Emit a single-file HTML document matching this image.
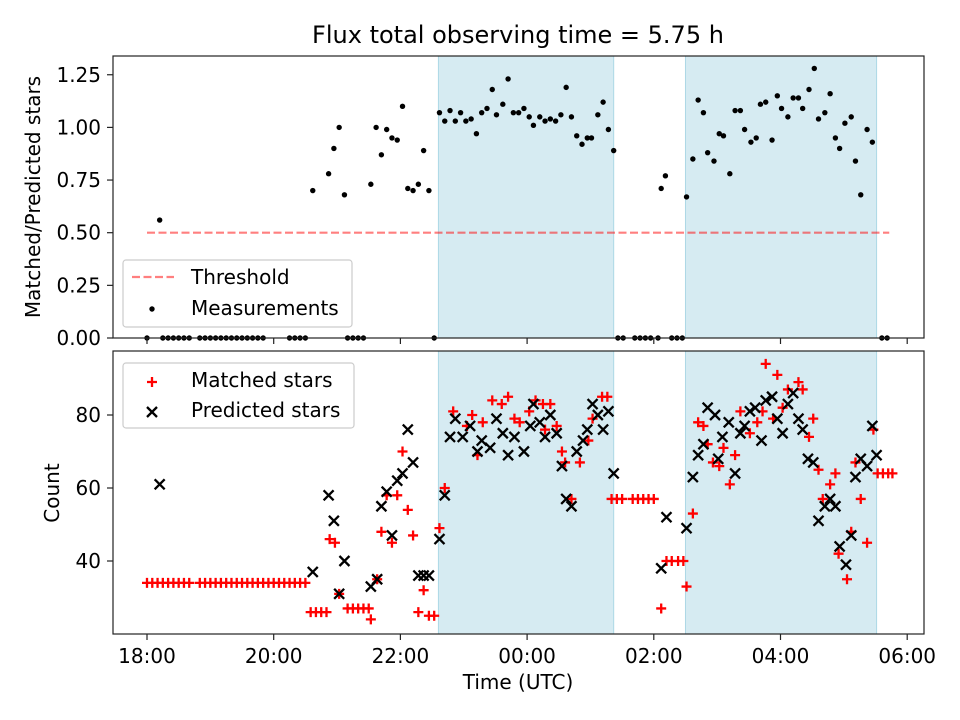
<!DOCTYPE html>
<html><head><meta charset="utf-8"><style>
html,body{margin:0;padding:0;background:#fff}
svg{display:block;font-family:"DejaVu Sans","Liberation Sans",sans-serif}
</style></head><body>
<svg id="chart" width="960" height="720" viewBox="0 0 960 720" xmlns="http://www.w3.org/2000/svg">
<rect width="960" height="720" fill="#fff"/>
<text x="518" y="43" font-size="24" text-anchor="middle">Flux total observing time = 5.75 h</text>
<g id="topPanel"></g>
<g id="botPanel"></g>
<text transform="translate(40,197) rotate(-90)" font-size="20" text-anchor="middle">Matched/Predicted stars</text>
<text transform="translate(59,493) rotate(-90)" font-size="20" text-anchor="middle">Count</text>
<text x="518" y="689" font-size="20" text-anchor="middle">Time (UTC)</text>
</svg>
<script>
// minutes since 18:00 UTC
const spans = [[276, 442], [510, 691]];
const threshold = 0.5;
const thresholdRange = [0, 703];
const ratioTimes = [0,15,20,25,30,35,40,50,55,60,65,70,75,80,85,90,95,100,105,110,135,140,145,150,190,195,200,205,272,446,451,462,467,472,477,484,497,502,507,696,701,
 12,157,172,177,182,187,212,217,222,227,232,237,242,247,252,257,262,267,277,282,287,292,297,302,307,312,317,322,327,331,337,342,347,352,357,362,366,372,377,382,387,392,397,402,407,412,417,421,427,432,437,442,487,491,511,517,522,527,531,537,542,546,552,557,562,566,572,577,581,586,592,597,601,607,612,617,621,627,632,636,642,647,652,656,661,667,671,676,682,687];
const ratioValues = [0,0,0,0,0,0,0,0,0,0,0,0,0,0,0,0,0,0,0,0,0,0,0,0,0,0,0,0,0,0,0,0,0,0,0,0,0,0,0,0,0,
 0.56,0.70,0.78,0.90,1.00,0.68,0.73,1.00,0.87,0.99,0.95,0.94,1.10,0.71,0.70,0.73,0.89,0.70,1.07,1.03,1.08,1.03,1.07,1.03,1.04,0.97,1.07,1.09,1.18,1.06,1.11,1.23,1.07,1.07,1.09,1.05,1.01,1.05,1.03,1.04,1.03,1.06,1.19,1.05,0.96,0.92,0.95,0.95,1.06,1.12,0.99,0.89,0.71,0.77,0.67,0.85,1.13,1.07,0.88,0.84,0.97,0.96,0.78,1.08,1.08,0.99,0.93,0.95,1.11,1.12,0.94,1.15,1.09,1.05,1.14,1.14,1.09,1.18,1.28,1.04,1.07,1.16,0.95,0.90,1.02,1.05,0.84,0.68,0.99,0.93];
const matchedTimes = [0,5,10,15,20,25,30,35,40,50,55,60,65,70,75,80,85,90,95,100,105,110,115,120,125,130,135,140,145,150,155,160,165,170,173,178,182,190,195,200,205,210,212,218,222,227,232,237,242,247,252,257,262,267,272,277,282,290,303,308,313,318,327,336,342,348,353,362,368,375,377,382,388,393,396,402,410,418,422,431,436,440,445,450,460,465,470,475,480,487,492,497,503,508,511,517,522,527,531,536,542,546,552,557,562,571,578,583,586,593,597,602,607,617,621,627,631,636,640,647,652,655,663,667,671,676,682,688,692,697,702,706];
const matchedValues = [34,34,34,34,34,34,34,34,34,34,34,34,34,34,34,34,34,34,34,34,34,34,34,34,34,34,34,34,34,34,26,26,26,26,46,45,31,27,27,27,27,27,24,35,48,58,45,58,70,54,47,26,32,25,25,49,60,81,77,80,69,78,84,83,85,79,78,81,84,83,76,83,77,70,67,57,67,73,79,85,85,57,57,57,57,57,57,57,57,27,40,40,40,40,33,53,78,77,72,67,66,71,61,69,81,75,78,81,94,79,91,82,87,89,87,74,79,65,57,61,64,42,35,48,67,57,45,76,64,64,64,64];
const predictedTimes = [12,157,172,177,182,187,212,218,222,227,232,237,242,247,252,257,262,267,277,282,287,292,299,306,313,317,325,331,337,342,348,357,363,366,372,377,382,388,393,397,402,407,413,417,422,427,432,437,442,487,492,511,517,522,527,531,538,541,545,551,557,562,566,571,576,582,586,592,597,602,607,612,617,621,626,631,636,642,647,652,656,662,667,671,676,682,687,691];
const predictedValues = [61,37,58,51,31,40,33,35,55,59,47,62,64,76,67,36,36,36,46,58,74,79,74,77,70,73,71,79,75,69,74,70,77,83,78,74,80,75,66,57,55,70,73,76,83,80,76,81,64,38,52,49,63,69,72,82,80,68,74,78,64,75,77,81,82,73,84,85,79,75,83,86,79,76,68,67,51,55,57,55,44,39,47,63,68,66,77,69];
const xTickMinutes = [0,120,240,360,480,600,720];
const xTickLabels = ["18:00","20:00","22:00","00:00","02:00","04:00","06:00"];
const topTicks = [0,0.25,0.5,0.75,1.0,1.25];
const topTickLabels = ["0.00","0.25","0.50","0.75","1.00","1.25"];
const botTicks = [40,60,80];
const botTickLabels = ["40","60","80"];

const NS = "http://www.w3.org/2000/svg";
const L = 113, R = 924;
const T1 = 56, B1 = 338, T2 = 351, B2 = 634;
const xs = m => 147 + m * 63.35 / 60;
const yTop = v => 338 - v * 210.6;
const yBot = c => 415 - (c - 80) * 3.65;
function mk(tag, attrs, parent) {
  const e = document.createElementNS(NS, tag);
  for (const k in attrs) e.setAttribute(k, attrs[k]);
  parent.appendChild(e);
  return e;
}
const topG = document.getElementById('topPanel');
const botG = document.getElementById('botPanel');

function panel(g, T, B, isTop) {
  const clipId = isTop ? 'c1' : 'c2';
  const cp = mk('clipPath', {id: clipId}, g);
  mk('rect', {x: L, y: T - 4, width: R - L, height: B - T + 8}, cp);
  const inner = mk('g', {'clip-path': 'url(#' + clipId + ')'}, g);
  spans.forEach((s, i) => {
    const r = mk('rect', {x: xs(s[0]), y: T, width: xs(s[1]) - xs(s[0]), height: B - T, fill: '#add8e6', 'fill-opacity': 0.5, stroke: '#add8e6', 'stroke-width': 1}, inner);
    
    
  });
  xTickMinutes.forEach((m, i) => {
    const t = mk('line', {x1: xs(m), x2: xs(m), y1: B, y2: B + 6, stroke: '#222', 'stroke-width': 1.2}, g);
    
    
    if (!isTop) {
      const lb = mk('text', {x: xs(m), y: B + 29, 'font-size': 20, 'text-anchor': 'middle'}, g);
      lb.textContent = xTickLabels[i];
      
      
    }
  });
  const ticks = isTop ? topTicks : botTicks;
  const labels = isTop ? topTickLabels : botTickLabels;
  const yf = isTop ? yTop : yBot;
  ticks.forEach((v, i) => {
    mk('line', {x1: L - 6, x2: L, y1: yf(v), y2: yf(v), stroke: '#222', 'stroke-width': 1.2}, g);
    const lb = mk('text', {x: L - 12, y: yf(v) + 7, 'font-size': 20, 'text-anchor': 'end'}, g);
    lb.textContent = labels[i];
    
    
  });
  return inner;
}

const ti = panel(topG, T1, B1, true);
const th = mk('line', {x1: xs(thresholdRange[0]), x2: xs(thresholdRange[1]), y1: yTop(threshold), y2: yTop(threshold), stroke: '#ff0000', 'stroke-opacity': 0.5, 'stroke-width': 2.2, 'stroke-dasharray': '8,3.5'}, ti);


ratioTimes.forEach((m, i) => {
  const c = mk('circle', {cx: xs(m), cy: yTop(ratioValues[i]), r: 2.7, fill: '#000'}, ti);
  
  
});
mk('rect', {x: L, y: T1, width: R - L, height: B1 - T1, fill: 'none', stroke: '#222', 'stroke-width': 1.2}, topG);

const bi = panel(botG, T2, B2, false);
function plus(g, cx, cy) {
  return mk('path', {d: `M${cx - 5},${cy}H${cx + 5}M${cx},${cy - 5}V${cy + 5}`, stroke: '#ff0000', 'stroke-width': 2.3, fill: 'none'}, g);
}
function cross(g, cx, cy) {
  return mk('path', {d: `M${cx - 5},${cy - 5}L${cx + 5},${cy + 5}M${cx - 5},${cy + 5}L${cx + 5},${cy - 5}`, stroke: '#000', 'stroke-width': 2.3, fill: 'none'}, g);
}
matchedTimes.forEach((m, i) => {
  const p = plus(bi, xs(m), yBot(matchedValues[i]));
  
  
});
predictedTimes.forEach((m, i) => {
  const p = cross(bi, xs(m), yBot(predictedValues[i]));
  
  
});
mk('rect', {x: L, y: T2, width: R - L, height: B2 - T2, fill: 'none', stroke: '#222', 'stroke-width': 1.2}, botG);

const lg1 = mk('g', {}, topG);


mk('rect', {x: 123, y: 260, width: 229, height: 67, rx: 3, fill: '#fff', 'fill-opacity': 0.8, stroke: '#ccc', 'stroke-width': 1.2}, lg1);
mk('line', {x1: 132, x2: 174, y1: 277, y2: 277, stroke: '#ff0000', 'stroke-opacity': 0.5, 'stroke-width': 2.2, 'stroke-dasharray': '8,3.5'}, lg1);
let tx = mk('text', {x: 191, y: 284, 'font-size': 20}, lg1); tx.textContent = 'Threshold';
mk('circle', {cx: 152, cy: 309, r: 2.7, fill: '#000'}, lg1);
tx = mk('text', {x: 191, y: 315, 'font-size': 20}, lg1); tx.textContent = 'Measurements';

const lg2 = mk('g', {}, botG);


mk('rect', {x: 123, y: 363, width: 231, height: 65, rx: 3, fill: '#fff', 'fill-opacity': 0.8, stroke: '#ccc', 'stroke-width': 1.2}, lg2);
plus(lg2, 152, 382);
tx = mk('text', {x: 191, y: 387, 'font-size': 20}, lg2); tx.textContent = 'Matched stars';
cross(lg2, 152, 412);
tx = mk('text', {x: 191, y: 417, 'font-size': 20}, lg2); tx.textContent = 'Predicted stars';
</script>
</body></html>
